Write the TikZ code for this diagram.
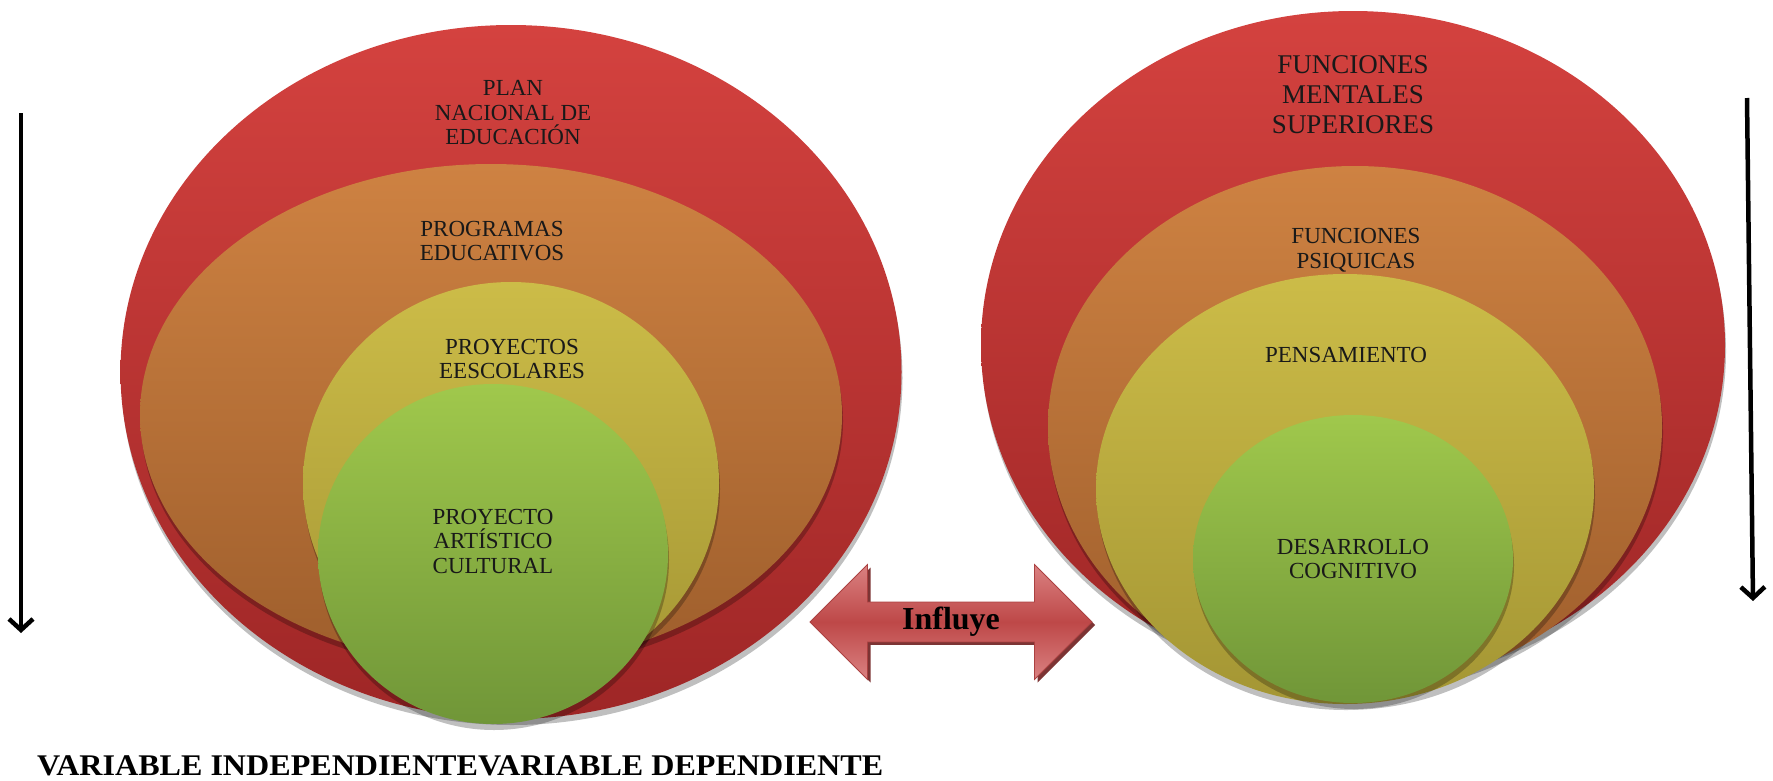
\documentclass[tikz,border=0pt]{standalone}
\usepackage{fontspec}
\setmainfont{Liberation Serif}
\usepackage{tikz}
\usetikzlibrary{arrows.meta,shapes.geometric,shapes.arrows,shadows}

\definecolor{redtop}{RGB}{212,66,63}
\definecolor{redbot}{RGB}{158,38,38}
\definecolor{orangetop}{RGB}{206,130,66}
\definecolor{orangebot}{RGB}{158,94,44}
\definecolor{yellowtop}{RGB}{204,188,72}
\definecolor{yellowbot}{RGB}{164,150,52}
\definecolor{greentop}{RGB}{160,200,76}
\definecolor{greenbot}{RGB}{112,150,56}
\definecolor{arrowlight}{RGB}{218,130,130}
\definecolor{arrowdark}{RGB}{190,72,72}
\definecolor{arrowshadow}{RGB}{110,30,30}

\begin{document}
\begin{tikzpicture}[x=1pt,y=-1pt,
	ring/.style n args={4}{
		ellipse,
		inner sep=0pt,
		outer sep=0pt,
		minimum width=#1,
		minimum height=#2,
		top color=#3,
		bottom color=#4,
		drop shadow={shadow xshift=1pt, shadow yshift=-6pt, opacity=0.25, fill=black}
	},
	ringtext/.style={align=center, inner sep=0pt, text=black!90,
		font=\fontsize{23}{24.5}\selectfont},
	downarrow/.style={line width=4.5pt, -{Straight Barb[length=11pt,width=24pt]}}]

	\useasboundingbox (0,0) rectangle (1773,780);

	% variable independiente
	\node[ring={781}{694}{redtop}{redbot}] (plan) at (511,372) {};
	\node[ring={702}{502}{orangetop}{orangebot}] (programas) at (491,415) {};
	\node[ring={416}{402}{yellowtop}{yellowbot}] (proyectos) at (511,483) {};
	\node[ring={350}{340}{greentop}{greenbot}] (proyecto) at (493,554) {};

	\node[ringtext] (plantext) at (513,113) {PLAN\\NACIONAL DE\\EDUCACIÓN};
	\node[ringtext] (programastext) at (492,241) {PROGRAMAS\\EDUCATIVOS};
	\node[ringtext] (proyectostext) at (512,359) {PROYECTOS\\EESCOLARES};
	\node[ringtext] (proyectotext) at (493,541) {PROYECTO\\ARTÍSTICO\\CULTURAL};

	% variable dependiente
	\node[ring={744}{668}{redtop}{redbot}] (funciones) at (1353,345) {};
	\node[ring={614}{522}{orangetop}{orangebot}] (psiquicas) at (1355,427) {};
	\node[ring={498}{430}{yellowtop}{yellowbot}] (pensamiento) at (1345,489) {};
	\node[ring={320}{288}{greentop}{greenbot}] (desarrollo) at (1353,559) {};

	\node[ringtext, font=\fontsize{27}{30}\selectfont] (funcionestext) at (1353,95) {FUNCIONES\\MENTALES\\SUPERIORES};
	\node[ringtext] (psiquicastext) at (1356,250) {FUNCIONES\\PSIQUICAS};
	\node[ringtext] (pensamientotext) at (1346,355) {PENSAMIENTO};
	\node[ringtext] (desarrollotext) at (1353,559) {DESARROLLO\\COGNITIVO};

	% flecha doble
	\node[double arrow,
		double arrow head extend=28.5pt,
		minimum height=282pt,
		minimum width=115pt,
		inner sep=0pt,
		draw=arrowdark!90!black,
		line width=0.8pt,
		top color=arrowlight,
		bottom color=arrowlight,
		middle color=arrowdark,
		drop shadow={shadow xshift=3pt, shadow yshift=-3pt, opacity=0.9, fill=arrowshadow},
		font=\bfseries\fontsize{32}{34}\selectfont] (influye) at (951,622) {Influye};

	% flechas verticales
	\coordinate (lefttop) at (21,113);
	\coordinate (leftbot) at (21,633);
	\coordinate (righttop) at (1747,98);
	\coordinate (rightbot) at (1753,601);
	\draw[downarrow] (lefttop) -- (leftbot);
	\draw[downarrow] (righttop) -- (rightbot);

	\node[anchor=base west, inner sep=0pt,
		font=\bfseries\fontsize{30}{32}\selectfont] (variables) at (37,775)
		{\scalebox{1.07}[1]{VARIABLE INDEPENDIENTEVARIABLE DEPENDIENTE}};
\end{tikzpicture}
\end{document}
